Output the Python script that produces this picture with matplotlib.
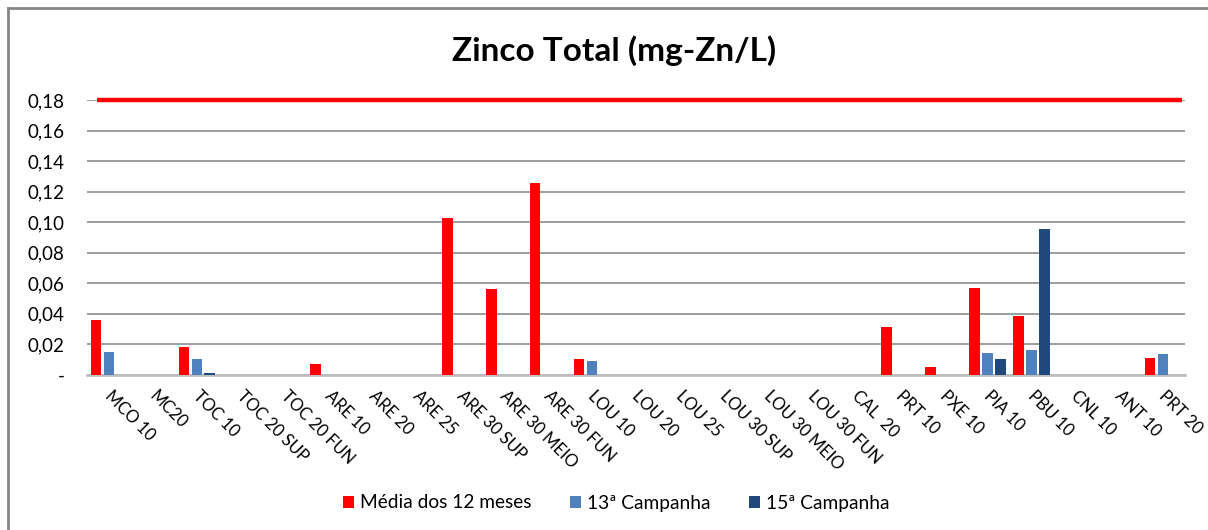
import numpy as np
import matplotlib.pyplot as plt
from matplotlib.lines import Line2D

plt.rcParams['font.family'] = ['Lato', 'DejaVu Sans']

estacoes = ['MCO 10', 'MC20', 'TOC 10', 'TOC 20 SUP', 'TOC 20 FUN', 'ARE 10',
            'ARE 20', 'ARE 25', 'ARE 30 SUP', 'ARE 30 MEIO', 'ARE 30 FUN',
            'LOU 10', 'LOU 20', 'LOU 25', 'LOU 30 SUP', 'LOU 30 MEIO',
            'LOU 30 FUN', 'CAL  20', 'PRT 10', 'PXE 10', 'PIA 10', 'PBU 10',
            'CNL 10', 'ANT 10', 'PRT 20']

media_12 = [0.036, 0, 0.0185, 0, 0, 0.007, 0, 0, 0.103, 0.056, 0.126,
            0.0103, 0, 0, 0, 0, 0, 0, 0.0315, 0.005, 0.057, 0.0386,
            0, 0, 0.011]
camp_13 = [0.015, 0, 0.0105, 0, 0, 0, 0, 0, 0, 0, 0,
           0.0094, 0, 0, 0, 0, 0, 0, 0, 0, 0.0143, 0.0163,
           0, 0, 0.0137]
camp_15 = [0, 0, 0.0015, 0, 0, 0, 0, 0, 0, 0, 0,
           0, 0, 0, 0, 0, 0, 0, 0, 0, 0.0102, 0.0955,
           0, 0, 0]
limite = 0.18

series = [('Média dos 12 meses', media_12, '#FF0000'),
          ('13ª Campanha', camp_13, '#4F81BD'),
          ('15ª Campanha', camp_15, '#1F497D')]

fig = plt.figure(figsize=(12.08, 5.30), dpi=100)
ax = fig.add_axes([0.072, 0.2925, 0.909, 0.5188])

x = np.arange(len(estacoes))
w = 0.24
off = 0.295
for i, (nome, vals, cor) in enumerate(series):
    ax.bar(x + (i - 1) * off, vals, w, color=cor, label=nome, zorder=3)

# linha do limite
ax.axhline(limite, xmin=0.009, xmax=0.997, color='#FF0000', lw=3.2,
           solid_capstyle='butt', zorder=4, clip_on=False)

ax.set_xlim(-0.5, len(estacoes) - 0.5)
ax.set_ylim(0, 0.18)
yt = np.arange(0, 0.181, 0.02)
ax.set_yticks(yt)
ax.set_yticklabels(['-' if v == 0 else f'{v:.2f}'.replace('.', ',') for v in yt],
                   fontsize=13.5)
ax.yaxis.grid(True, color='#8C8C8C', lw=1.2, zorder=0)
ax.tick_params(axis='y', length=0, pad=16)
ax.tick_params(axis='x', length=0, pad=2)
ax.set_xticks(x + 0.1)
ax.set_xticklabels(estacoes, rotation=-45, ha='left', va='top',
                   rotation_mode='anchor', fontsize=12)
for lbl in ax.get_xticklabels():
    lbl.set_y(-0.035)

for s in ['top', 'right', 'left']:
    ax.spines[s].set_visible(False)
ax.spines['bottom'].set_color('#BFBFBF')
ax.spines['bottom'].set_linewidth(2)

fig.suptitle('Zinco Total (mg-Zn/L)', x=0.5087, y=0.905, fontsize=24,
             fontweight='bold', va='center')

ax.legend(loc='center', bbox_to_anchor=(0.51, 1 - 503 / 530),
          bbox_transform=fig.transFigure, ncol=3, frameon=False,
          fontsize=13.8, handlelength=0.6, handleheight=0.6,
          handletextpad=0.3, columnspacing=2.0)

# moldura do gráfico
fig.add_artist(Line2D([8 / 1208, 1], [1 - 8 / 530, 1 - 8 / 530],
                      color='#868686', lw=2, transform=fig.transFigure))
fig.add_artist(Line2D([8 / 1208, 8 / 1208], [0, 1 - 8 / 530],
                      color='#868686', lw=2, transform=fig.transFigure))

fig.savefig('out.png', dpi=100)
